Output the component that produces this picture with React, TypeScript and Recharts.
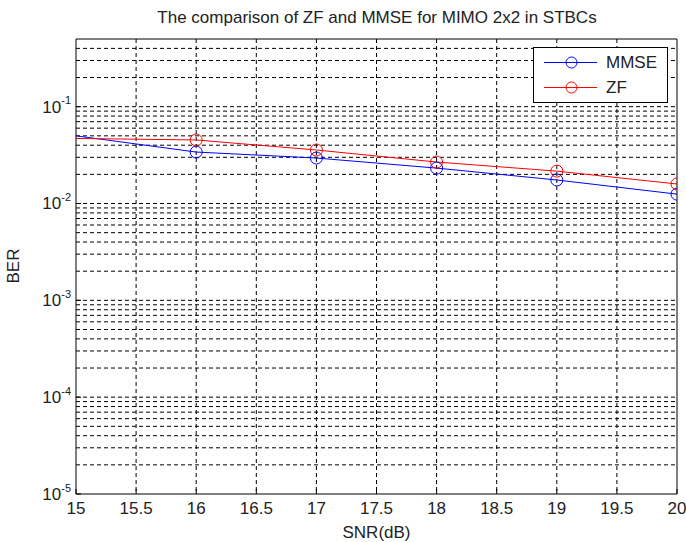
import React from 'react';
import { LineChart, Line, XAxis, YAxis, CartesianGrid, Legend } from 'recharts';

const snrValues = [15, 16, 17, 18, 19, 20];
const mmseBer = [0.05, 0.034, 0.0295, 0.0232, 0.0175, 0.0125];
const zfBer = [0.047, 0.0453, 0.0357, 0.0268, 0.0216, 0.0159];
const xTicks = [15, 15.5, 16, 16.5, 17, 17.5, 18, 18.5, 19, 19.5, 20];
const xGridValues = [15.5, 16, 16.5, 17, 17.5, 18, 18.5, 19, 19.5];
const yDecades = [1e-5, 1e-4, 1e-3, 1e-2, 1e-1];
const yMinorMultipliers = [1, 2, 3, 4, 5, 6, 7, 8, 9];
const yTop = 0.5;

const yGridValues: number[] = [];
yDecades.forEach((d) => {
  yMinorMultipliers.forEach((m) => {
    const v = m * d;
    if (v > 1e-5 && v < yTop) yGridValues.push(v);
  });
});

const data = snrValues.map((s, i) => ({ snr: s, mmse: mmseBer[i], zf: zfBer[i] }));

const FONT = '"Liberation Sans", Arial, Helvetica, sans-serif';
const TEXT = '#222';

const YTick = (props: any) => {
  const { x, y, payload } = props;
  const exp = Math.round(Math.log10(payload.value));
  return (
    <text x={x} y={y} textAnchor="end" fontFamily={FONT} fill={TEXT} fontSize={17}>
      <tspan dy="0.35em">10</tspan>
      <tspan dy="-0.75em" fontSize={11}>{String(exp)}</tspan>
    </text>
  );
};

const XTick = (props: any) => {
  const { x, y, payload } = props;
  return (
    <text x={x} y={y} textAnchor="middle" dy="0.71em" fontFamily={FONT} fill={TEXT} fontSize={17}>
      {String(payload.value)}
    </text>
  );
};

const makeDot = (color: string) => (props: any) => {
  const { cx, cy, index } = props;
  if (index === 0 || cx == null || cy == null) return <g key={`d${index}`} />;
  return <circle key={`d${index}`} cx={cx} cy={cy} r={6} fill="none" stroke={color} strokeWidth={1} />;
};

const LegendBox = (props: any) => {
  const payload = props.payload || [];
  return (
    <svg width={135} height={56} style={{ display: 'block' }}>
      <rect x={0.5} y={0.5} width={134} height={55} fill="#fff" stroke="#000" />
      {payload.map((p: any, i: number) => {
        const cy = 15.5 + i * 25;
        return (
          <g key={i}>
            <line x1={11} x2={64} y1={cy} y2={cy} stroke={p.color} />
            <circle cx={38.5} cy={cy} r={5.5} fill="none" stroke={p.color} />
            <text x={73} y={cy} dy="0.35em" fontSize={17} fontFamily={FONT} fill={TEXT}>
              {p.value}
            </text>
          </g>
        );
      })}
    </svg>
  );
};

export default function App() {
  return (
    <div style={{ position: 'absolute', left: 0, top: 0, width: 686, height: 542, background: '#fff' }}>
      <div
        style={{
          position: 'absolute',
          left: 377,
          top: 17,
          transform: 'translate(-50%, -50%)',
          whiteSpace: 'nowrap',
          fontFamily: FONT,
          fontSize: 17,
          color: TEXT,
          lineHeight: 1,
        }}
      >
        The comparison of ZF and MMSE for MIMO 2x2 in STBCs
      </div>
      <div
        style={{
          position: 'absolute',
          left: 13,
          top: 266,
          transform: 'translate(-50%, -50%) rotate(-90deg)',
          whiteSpace: 'nowrap',
          fontFamily: FONT,
          fontSize: 17,
          color: TEXT,
          lineHeight: 1,
        }}
      >
        BER
      </div>
      <LineChart width={686} height={542} data={data} margin={{ top: 39, right: 9, bottom: 0, left: 6 }}>
        <CartesianGrid
          stroke="#000"
          strokeDasharray="4 3"
          horizontalValues={yGridValues}
          verticalValues={xGridValues}
        />
        <XAxis
          dataKey="snr"
          type="number"
          domain={[15, 20]}
          ticks={xTicks}
          interval={0}
          allowDataOverflow
          height={48}
          tickSize={-5}
          tickMargin={13}
          tick={<XTick />}
          axisLine={{ stroke: '#000' }}
          tickLine={{ stroke: '#000' }}
          label={{ value: 'SNR(dB)', position: 'insideBottom', offset: 4, fill: TEXT, fontSize: 17, fontFamily: FONT }}
        />
        <XAxis
          xAxisId="top"
          orientation="top"
          mirror
          dataKey="snr"
          type="number"
          domain={[15, 20]}
          ticks={xTicks}
          interval={0}
          allowDataOverflow
          height={1}
          tick={false}
          tickSize={5}
          axisLine={{ stroke: '#000' }}
          tickLine={{ stroke: '#000' }}
        />
        <YAxis
          scale="log"
          type="number"
          domain={[1e-5, yTop]}
          allowDataOverflow
          ticks={yDecades}
          interval={0}
          width={70}
          tickSize={-5}
          tickMargin={10}
          tick={<YTick />}
          axisLine={{ stroke: '#000' }}
          tickLine={{ stroke: '#000' }}
        />
        <YAxis
          yAxisId="right"
          orientation="right"
          mirror
          scale="log"
          type="number"
          domain={[1e-5, yTop]}
          allowDataOverflow
          ticks={yDecades}
          interval={0}
          width={1}
          tick={false}
          tickSize={5}
          axisLine={{ stroke: '#000' }}
          tickLine={{ stroke: '#000' }}
        />
        <Legend
          layout="vertical"
          align="center"
          verticalAlign="middle"
          content={<LegendBox />}
          wrapperStyle={{ position: 'absolute', left: 533, top: 47, width: 135, height: 56 }}
        />
        <Line
          name="MMSE"
          dataKey="mmse"
          stroke="#0000ff"
          strokeWidth={1}
          dot={makeDot('#0000ff')}
          activeDot={false}
          isAnimationActive={false}
        />
        <Line
          name="ZF"
          dataKey="zf"
          stroke="#ff0000"
          strokeWidth={1}
          dot={makeDot('#ff0000')}
          activeDot={false}
          isAnimationActive={false}
        />
      </LineChart>
    </div>
  );
}
